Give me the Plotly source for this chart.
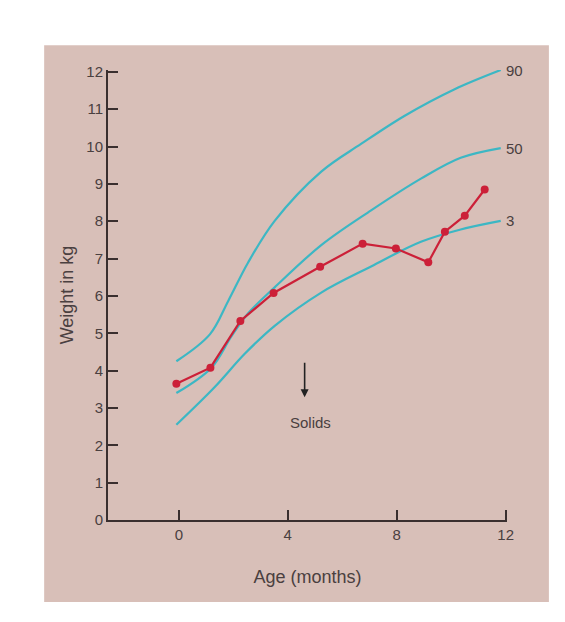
import plotly.graph_objects as go

# percentile curves (age in months, weight in kg)
p90_age = [-0.09, 1.14, 1.81, 2.54, 3.52, 5.23, 6.69, 8.28, 10.11, 11.82]
p90_wt = [4.25, 4.97, 5.86, 6.89, 8.01, 9.33, 10.07, 10.82, 11.53, 12.05]
p50_age = [-0.09, 1.20, 1.93, 2.54, 3.52, 5.23, 7.06, 8.89, 10.35, 11.82]
p50_wt = [3.40, 4.08, 4.92, 5.53, 6.23, 7.36, 8.29, 9.14, 9.70, 9.96]
p3_age = [-0.09, 1.32, 2.42, 3.52, 5.23, 7.06, 8.89, 10.35, 11.82]
p3_wt = [2.55, 3.56, 4.45, 5.20, 6.09, 6.79, 7.45, 7.78, 8.01]

# the baby's measurements
baby_age = [-0.09, 1.16, 2.26, 3.48, 5.19, 6.75, 7.97, 9.16, 9.77, 10.5, 11.23]
baby_wt = [3.65, 4.08, 5.33, 6.08, 6.78, 7.40, 7.27, 6.90, 7.72, 8.15, 8.85]

x_ticks = [0, 4, 8, 12]
y_ticks = list(range(0, 13))

cyan = '#3cb7c4'
red = '#cc2038'
ink = '#3a2f2f'
font = dict(family='Liberation Sans, Arial', size=15, color='#4a4040')

fig = go.Figure()
for ax, wt in [(p90_age, p90_wt), (p50_age, p50_wt), (p3_age, p3_wt)]:
    fig.add_scatter(x=ax, y=wt, mode='lines', line=dict(color=cyan, width=2.2, shape='spline'),
                    cliponaxis=False, showlegend=False)
fig.add_scatter(x=baby_age, y=baby_wt, mode='lines+markers', line=dict(color=red, width=2.2),
                marker=dict(color=red, size=8), cliponaxis=False, showlegend=False)

for txt, y in [('90', 12.05), ('50', 9.96), ('3', 8.01)]:
    fig.add_annotation(x=11.95, y=y, text=txt, showarrow=False, xanchor='left', font=font)

fig.add_annotation(x=4.62, y=3.29, ax=4.62, ay=4.25, xref='x', yref='y', axref='x', ayref='y',
                   text='', showarrow=True, arrowhead=2, arrowwidth=1.6, arrowcolor='#222')
fig.add_annotation(x=4.85, y=2.6, text='Solids', showarrow=False, font=font)
fig.add_annotation(x=0, y=-0.18, ax=0, ay=-0.9, xref='x', yref='y', axref='x', ayref='y',
                   text='', showarrow=True, arrowhead=2, arrowwidth=1.6, arrowcolor='#222')
fig.add_annotation(x=0.05, y=-1.4, text='Birth', showarrow=False, font=font)

fig.update_layout(
    width=565, height=622,
    margin=dict(l=100, r=66, t=62, b=110),
    paper_bgcolor='white', plot_bgcolor='rgba(0,0,0,0)',
    font=font,
    shapes=[dict(type='rect', xref='paper', yref='paper', x0=-0.16, x1=1.105, y0=-0.182, y1=1.055,
                 fillcolor='#d8bfb8', line_width=0, layer='below')],
)
fig.update_xaxes(range=[-2.6, 12.05], tickvals=x_ticks, ticks='inside', ticklen=10, tickwidth=2,
                 tickcolor=ink, showline=True, linecolor=ink, linewidth=2, showgrid=False,
                 zeroline=False, title=dict(text='Age (months)', standoff=28))
fig.update_yaxes(range=[0, 12.05], tickvals=y_ticks, ticks='inside', ticklen=10, tickwidth=2,
                 tickcolor=ink, showline=True, linecolor=ink, linewidth=2, showgrid=False,
                 zeroline=False, title=dict(text='Weight in kg', standoff=8))

fig.write_html('out.html')
